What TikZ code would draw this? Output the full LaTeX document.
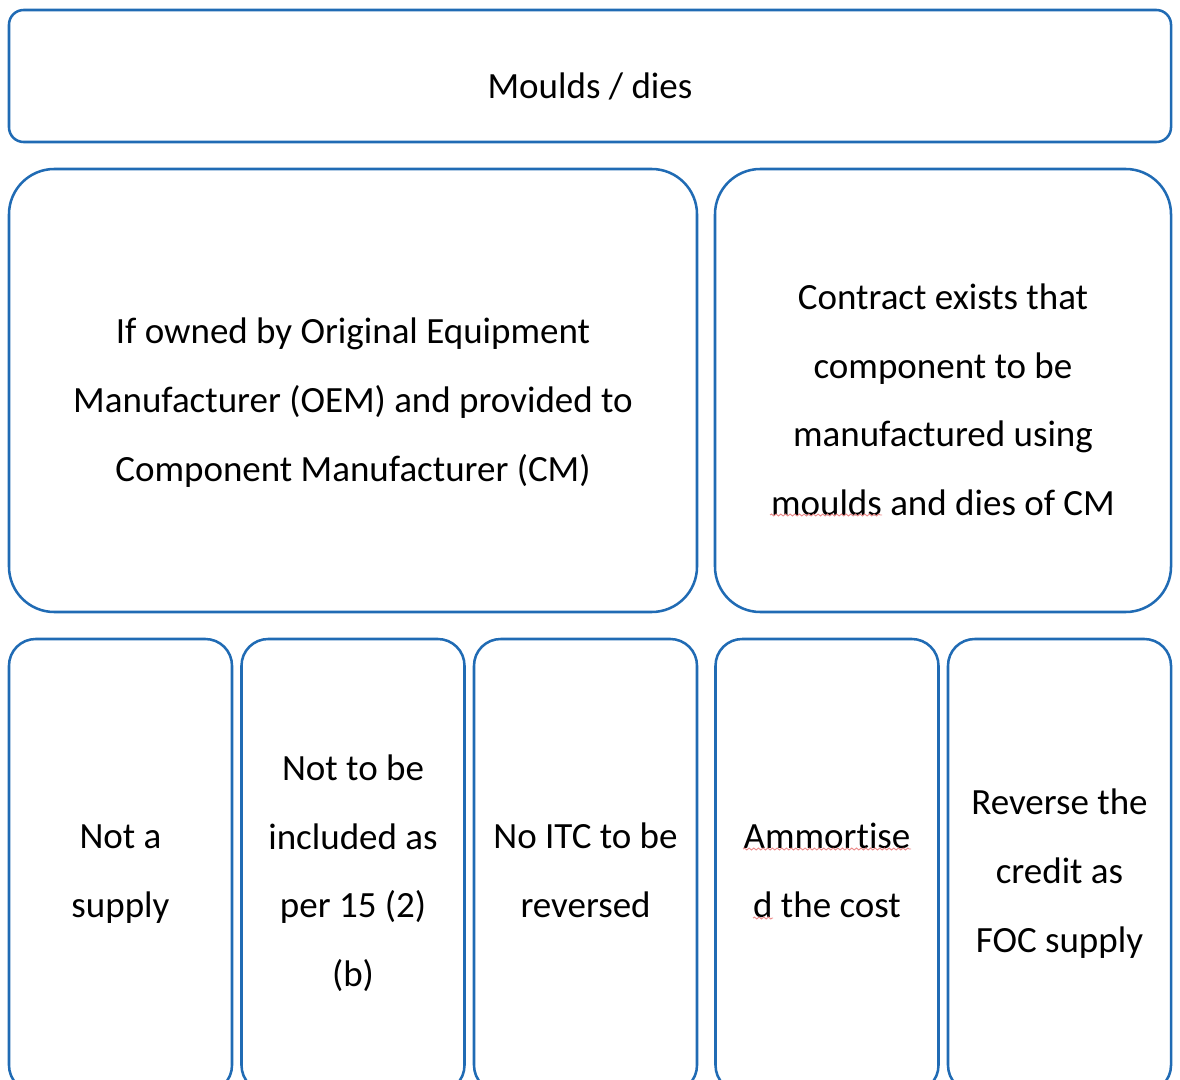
\documentclass[tikz,border=0pt]{standalone}
\usepackage{fontspec}
\setmainfont[Ligatures=NoCommon]{Carlito}
\usetikzlibrary{decorations.pathmorphing}
\definecolor{boxblue}{RGB}{32,107,180}
\definecolor{spell}{RGB}{236,140,140}
\tikzset{
  x=0.75pt, y=-0.75pt,
  panel/.style={draw=boxblue, line width=1.9pt, fill=white, inner sep=0pt, outer sep=0pt},
  % anchor=base sits on the baseline of the last line
  label/.style={align=center, anchor=base, inner sep=0pt, font=\fontsize{27.75}{51.4}\selectfont},
  squiggle/.style={draw=spell, line width=0.7pt, decorate,
    decoration={snake, amplitude=0.7pt, segment length=3.5pt}}
}
\begin{document}
\begin{tikzpicture}
\useasboundingbox (0,0) rectangle (1180,1080);
\clip (0,0) rectangle (1180,1080);

% header
\node[panel, rounded corners=11pt, minimum width={1162*0.75pt}, minimum height={132*0.75pt}] (top) at (590,76) {};
\node[label] (topt) at (590,99) {Moulds / dies};

% two middle panels
\node[panel, rounded corners=34pt, minimum width={688*0.75pt}, minimum height={443*0.75pt}] (midl) at (353,390.5) {};
\node[panel, rounded corners=34pt, minimum width={456*0.75pt}, minimum height={443*0.75pt}] (midr) at (943,390.5) {};
\node[label] (midlt) at (353,481) {If owned by Original Equipment\\Manufacturer (OEM) and provided to\\Component Manufacturer (CM)};
\node[label] (midrt) at (943,515.5) {Contract exists that\\component to be\\manufactured using\\moulds and dies of CM};

% bottom row
\tikzset{tall/.style={panel, rounded corners=20pt, minimum width={223*0.75pt}, minimum height={453*0.75pt}}}
\node[tall] (b1) at (120.5,865.5) {};
\node[tall] (b2) at (353,865.5) {};
\node[tall] (b3) at (585.5,865.5) {};
\node[tall] (b4) at (827,865.5) {};
\node[tall] (b5) at (1059.5,865.5) {};
\node[label] (b1t) at (120.5,917.5) {Not a\\supply};
\node[label] (b2t) at (353,986.5) {Not to be\\included as\\per 15 (2)\\(b)};
\node[label] (b3t) at (585.5,917.5) {No ITC to be\\reversed};
\node[label] (b4t) at (827,917.5) {Ammortise\\d the cost};
\node[label] (b5t) at (1059.5,952) {Reverse the\\credit as\\FOC supply};

% spelling marks
\coordinate (s1a) at (770,515); \coordinate (s1b) at (882,515);
\coordinate (s2a) at (743,849); \coordinate (s2b) at (911,849);
\coordinate (s3a) at (753,918); \coordinate (s3b) at (773,918);
\draw[squiggle] (s1a) -- (s1b);
\draw[squiggle] (s2a) -- (s2b);
\draw[squiggle] (s3a) -- (s3b);
\end{tikzpicture}
\end{document}
